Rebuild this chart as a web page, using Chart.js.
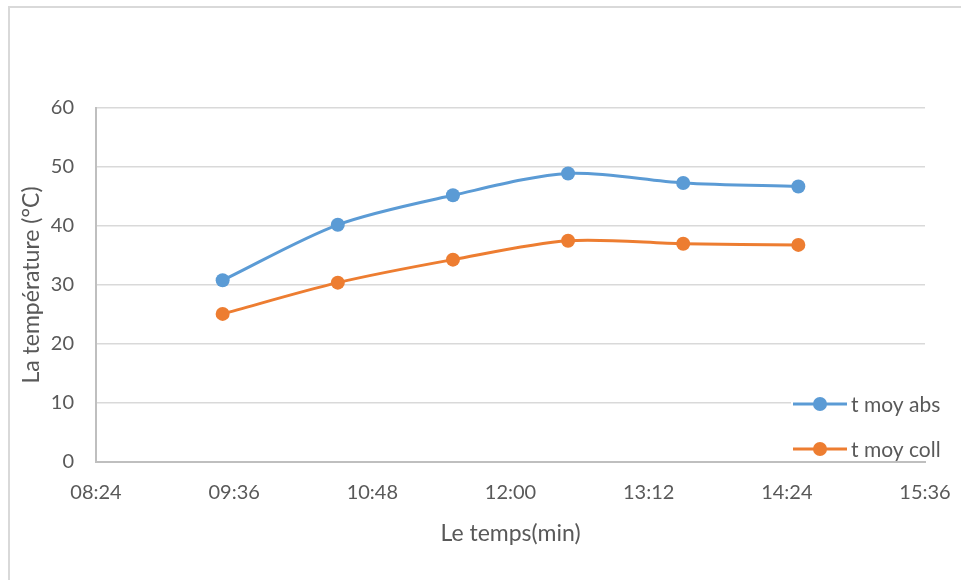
<!DOCTYPE html>
<html>
<head>
<meta charset="utf-8">
<script src="https://cdn.jsdelivr.net/npm/chart.js@4"></script>
<style>
  html, body { margin: 0; padding: 0; background: #fff; }
  #wrap { position: relative; width: 961px; height: 580px; overflow: hidden; }
  #frame { position: absolute; left: 8px; top: 6px; width: 1000px; height: 700px;
           border-top: 2px solid #d9d9d9; border-left: 2px solid #d9d9d9; }
  canvas { position: absolute; left: 0; top: 0; }
</style>
</head>
<body>
<div id="wrap">
  <div id="frame"></div>
  <canvas id="chart" width="961" height="580"></canvas>
</div>
<script>
(function () {
  // Data (time in minutes since midnight)
  const times = [570, 630, 690, 750, 810, 870]; // 09:30 .. 14:30
  const absVals = [30.8, 40.2, 45.2, 48.9, 47.3, 46.7];
  const collVals = [25.1, 30.4, 34.3, 37.5, 37.0, 36.8];
  const xMin = 504, xMax = 936, xStep = 72; // 08:24 .. 15:36
  const seriesNames = ["t moy abs", "t moy coll"];
  const colors = ["#5B9BD5", "#ED7D31"];

  const font = "Lato, 'Liberation Sans', sans-serif";
  const grey = "#595959";

  function hhmm(v) {
    const h = Math.floor(v / 60), m = Math.round(v % 60);
    return String(h).padStart(2, "0") + ":" + String(m).padStart(2, "0");
  }

  function toPoints(vals) {
    return times.map((t, i) => ({ x: t, y: vals[i] }));
  }

  // Legend drawn over the plot, Excel style (line + marker)
  const legendPlugin = {
    id: "excelLegend",
    afterDraw(chart) {
      const ctx = chart.ctx;
      const x0 = 793, ys = [404, 449];
      ctx.save();
      ctx.fillStyle = "#fff";
      ctx.fillRect(x0 - 2, 385, 168, 72);
      seriesNames.forEach((name, i) => {
        const y = ys[i];
        ctx.strokeStyle = colors[i];
        ctx.lineWidth = 3;
        ctx.beginPath();
        ctx.moveTo(x0, y);
        ctx.lineTo(x0 + 54, y);
        ctx.stroke();
        ctx.fillStyle = colors[i];
        ctx.beginPath();
        ctx.arc(x0 + 27, y, 7, 0, Math.PI * 2);
        ctx.fill();
        ctx.fillStyle = grey;
        ctx.font = "21px " + font;
        ctx.textBaseline = "middle";
        ctx.fillText(name, x0 + 58, y + 1);
      });
      ctx.restore();
    }
  };

  new Chart(document.getElementById("chart"), {
    type: "line",
    data: {
      datasets: [
        { label: seriesNames[0], data: toPoints(absVals) },
        { label: seriesNames[1], data: toPoints(collVals) }
      ].map((d, i) => Object.assign(d, {
        borderColor: colors[i],
        backgroundColor: colors[i],
        borderWidth: 3,
        pointRadius: 7,
        pointHoverRadius: 7,
        pointBorderWidth: 0,
        tension: 0.3,
        fill: false
      }))
    },
    options: {
      responsive: false,
      animation: false,
      layout: { padding: { left: 10, top: 108, right: 36, bottom: 8 } },
      plugins: { legend: { display: false }, tooltip: { enabled: false } },
      scales: {
        x: {
          type: "linear",
          min: xMin,
          max: xMax,
          afterFit: (s) => {
            s.height = 580 - 8 - 462;
            s.paddingLeft = 0;
            s.paddingRight = 0;
          },
          afterBuildTicks: (s) => {
            const t = [];
            for (let v = xMin; v <= xMax; v += xStep) t.push({ value: v });
            s.ticks = t;
          },
          ticks: {
            callback: (v) => hhmm(v),
            color: grey,
            font: { family: font, size: 20 },
            padding: 19,
            maxRotation: 0
          },
          grid: { display: false, drawTicks: false },
          border: { color: "#bfbfbf", width: 2 },
          title: {
            display: true,
            text: "Le temps(min)",
            color: grey,
            font: { family: font, size: 23 },
            padding: { top: 10, bottom: 25 }
          }
        },
        y: {
          min: 0,
          max: 60,
          afterFit: (s) => { s.width = 96 - 10; },
          ticks: {
            stepSize: 10,
            color: grey,
            font: { family: font, size: 20 },
            padding: 22
          },
          grid: { color: "#d9d9d9", lineWidth: 1.5, drawTicks: false },
          border: { color: "#bfbfbf", width: 2 },
          title: {
            display: true,
            text: "La température (°C)",
            color: grey,
            font: { family: font, size: 23 },
            padding: { top: 8, bottom: 4 }
          }
        }
      }
    },
    plugins: [legendPlugin]
  });
})();
</script>
</body>
</html>
